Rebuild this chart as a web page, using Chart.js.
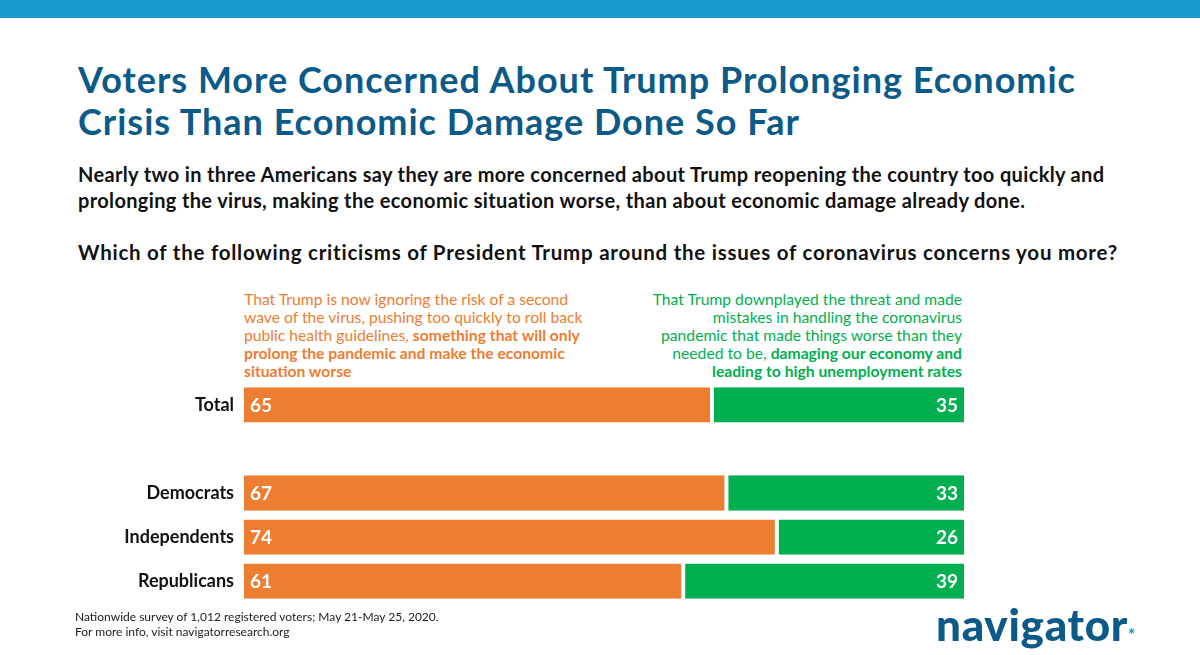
<!DOCTYPE html>
<html><head><meta charset="utf-8">
<script src="https://cdn.jsdelivr.net/npm/chart.js@4.4.1/dist/chart.umd.min.js"></script>
<style>
html,body{margin:0;padding:0;background:#fff;width:1200px;height:655px;overflow:hidden;font-family:Lato,"Open Sans",sans-serif;}
#topbar{position:absolute;left:0;top:0;width:1200px;height:18px;background:#1a9bcf;}
.t{position:absolute;white-space:nowrap;}
#title{left:78px;top:58px;font-size:36px;font-weight:700;color:#0b5a88;line-height:42px;letter-spacing:1px;}
#sub{left:78px;top:161px;font-size:20px;font-weight:700;color:#111;line-height:26px;letter-spacing:0.35px;}
#q{left:78px;top:240px;font-size:20.5px;font-weight:700;color:#111;letter-spacing:0.75px;}
#lo{left:244px;top:290px;font-size:15.7px;color:#ED7D31;line-height:18px;font-weight:400;}
#lg{right:238px;top:290px;font-size:15.7px;color:#00B050;line-height:18px;text-align:right;font-weight:400;}
#lo b,#lg b{font-weight:700;}
#foot{left:75px;top:609px;font-size:12px;color:#222;line-height:15px;}
#logo{left:936px;top:598px;font-size:44px;font-weight:900;color:#0b5a88;letter-spacing:0.7px;}
#logo span{color:#1a9bcf;font-size:17px;}
#wrap{position:absolute;left:0;top:370px;width:1200px;height:246px;}
</style></head><body>
<div id="topbar"></div>
<div class="t" id="title">Voters More Concerned About Trump Prolonging Economic<br>Crisis Than Economic Damage Done So Far</div>
<div class="t" id="sub">Nearly two in three Americans say they are more concerned about Trump reopening the country too quickly and<br>prolonging the virus, making the economic situation worse, than about economic damage already done.</div>
<div class="t" id="q">Which of the following criticisms of President Trump around the issues of coronavirus concerns you more?</div>
<div class="t" id="lo">That Trump is now ignoring the risk of a second<br>wave of the virus, pushing too quickly to roll back<br>public health guidelines, <b>something that will only<br>prolong the pandemic and make the economic<br>situation worse</b></div>
<div class="t" id="lg">That Trump downplayed the threat and made<br>mistakes in handling the coronavirus<br>pandemic that made things worse than they<br>needed to be, <b>damaging our economy and<br>leading to high unemployment rates</b></div>
<div id="wrap"><canvas id="c"></canvas></div>
<div class="t" id="foot">Nationwide survey of 1,012 registered voters; May 21-May 25, 2020.<br>For more info, visit navigatorresearch.org</div>
<div class="t" id="logo">navigator<span>*</span></div>
<script>
const categories = ["Total", "", "Democrats", "Independents", "Republicans"];
const prolongValues = [65, null, 67, 74, 61];
const downplayValues = [35, null, 33, 26, 39];
const seriesNames = ["Prolong pandemic, worsen economy", "Downplayed threat, damaged economy"];

const valueLabels = {
  id: 'valueLabels',
  afterDatasetsDraw(chart) {
    const ctx = chart.ctx;
    ctx.save();
    ctx.fillStyle = '#fff';
    ctx.font = '700 19px Lato, sans-serif';
    ctx.textBaseline = 'middle';
    chart.data.datasets.forEach((ds, di) => {
      const meta = chart.getDatasetMeta(di);
      meta.data.forEach((el, i) => {
        const v = ds.data[i];
        if (v == null) return;
        const left = Math.min(el.x, el.base), right = Math.max(el.x, el.base);
        if (di === 0) { ctx.textAlign = 'left'; ctx.fillText(String(v), left + 6, el.y + 1); }
        else { ctx.textAlign = 'right'; ctx.fillText(String(v), right - 6, el.y + 1); }
      });
    });
    ctx.restore();
  }
};

new Chart(document.getElementById('c'), {
  type: 'bar',
  data: {
    labels: categories,
    datasets: [
      { label: seriesNames[0], data: prolongValues, backgroundColor: '#ED7D31', borderColor: '#fff', borderWidth: {right: 2, left: 0, top: 0, bottom: 0}, borderSkipped: false },
      { label: seriesNames[1], data: downplayValues, backgroundColor: '#00B050', borderColor: '#fff', borderWidth: {left: 2, right: 0, top: 0, bottom: 0}, borderSkipped: false }
    ]
  },
  options: {
    indexAxis: 'y',
    responsive: true,
    maintainAspectRatio: false,
    animation: false,
    layout: { padding: { left: 0, right: 236, top: 0, bottom: 0 } },
    datasets: { bar: { categoryPercentage: 1, barPercentage: 0.8 } },
    plugins: { legend: { display: false }, tooltip: { enabled: false } },
    scales: {
      x: { stacked: true, min: 0, max: 100, display: false },
      y: {
        stacked: true,
        grid: { display: false },
        border: { display: false },
        ticks: { color: '#111', font: { family: 'Lato, sans-serif', size: 18, weight: '700' }, padding: 2 },
        afterFit(scale) { scale.width = 244; }
      }
    }
  },
  plugins: [valueLabels]
});
</script>
</body></html>
